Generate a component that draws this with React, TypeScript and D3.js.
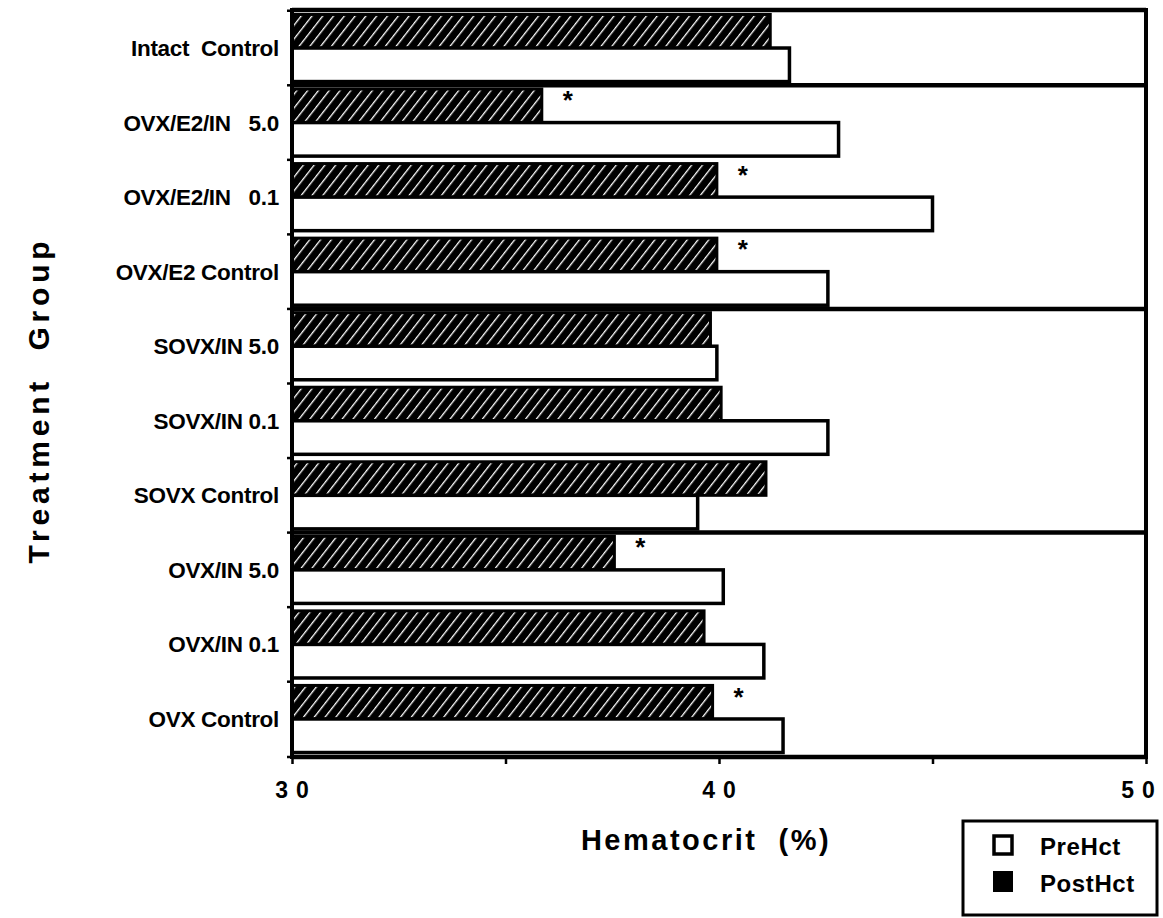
import * as d3 from "d3";
import { useEffect, useRef } from "react";

const groups = [
  "Intact  Control",
  "OVX/E2/IN   5.0",
  "OVX/E2/IN   0.1",
  "OVX/E2 Control",
  "SOVX/IN 5.0",
  "SOVX/IN 0.1",
  "SOVX Control",
  "OVX/IN 5.0",
  "OVX/IN 0.1",
  "OVX Control"
];
const preHct = [41.65, 42.8, 45.0, 42.55, 39.95, 42.55, 39.5, 40.1, 41.05, 41.5];
const postHct = [41.2, 35.85, 39.95, 39.95, 39.8, 40.05, 41.1, 37.55, 39.65, 39.85];
const significant = [false, true, true, true, false, false, false, true, false, true];
// last group of each box, a heavy rule is drawn under it
const boxEnds = [0, 3, 6];
const xTicks = [30, 35, 40, 45, 50];
const xLabels = [30, 40, 50];

const W = 1163;
const H = 918;
const font = "'Liberation Sans', Arial, sans-serif";

export default function App() {
  const axisx: any = useRef();

  const left = 292, right = 1146, top = 10, bottom = 757;

  const x: any = d3.scaleLinear([30, 50], [left, right]);
  const y: any = d3.scaleBand(groups, [top, bottom]).paddingInner(0.1).paddingOuter(0.06);
  const half = y.bandwidth() / 2;
  const step = y.step();

  useEffect(() => {
    const g = d3.select(axisx.current);
    g.call(d3.axisBottom(x).tickValues(xTicks).tickSize(7).tickFormat(() => ""));
    g.select(".domain").remove();
    g.selectAll(".tick line").attr("stroke-width", 2.5);
  }, [x]);

  return (
    <svg width={W} height={H} style={{ position: "absolute", left: 0, top: 0, background: "#fff" }}>
      <defs>
        <pattern id="hatch" patternUnits="userSpaceOnUse" width={8.5} height={8.5} patternTransform="rotate(38)">
          <rect width={8.5} height={8.5} fill="#000" />
          <line x1={0} y1={0} x2={0} y2={8.5} stroke="#fff" strokeWidth={2.6} />
        </pattern>
      </defs>

      {/* PostHct (hatched) then PreHct (open) bars */}
      {groups.map((g, i) => (
        <g key={g}>
          <rect
            x={x(30)} y={y(g)}
            width={x(postHct[i]) - x(30)} height={half}
            fill="url(#hatch)" stroke="#000" strokeWidth={3} />
          <rect
            x={x(30)} y={y(g) + half}
            width={x(preHct[i]) - x(30)} height={half}
            fill="#fff" stroke="#000" strokeWidth={3.5} />
          {significant[i] && (
            <text
              x={x(postHct[i]) + 26} y={y(g) + half * 0.6}
              textAnchor="middle" fontFamily={font} fontWeight="bold" fontSize={26}>*</text>
          )}
          <text
            x={279} y={y(g) + half + 8}
            textAnchor="end" fontFamily={font} fontWeight="bold" fontSize={22.5}
            letterSpacing={-0.3} style={{ whiteSpace: "pre" }}>{g}</text>
        </g>
      ))}

      {/* box rules */}
      {boxEnds.map(i => {
        const yy = y(groups[i]) + y.bandwidth() + (step - y.bandwidth()) / 2;
        return <line key={i} x1={left} x2={right} y1={yy} y2={yy} stroke="#000" strokeWidth={4.5} />;
      })}

      {/* y ticks at band edges */}
      {groups.map((g, i) => {
        const yy = y(g) - (step - y.bandwidth()) / 2;
        return <line key={"t" + i} x1={left - 5} x2={left} y1={yy} y2={yy} stroke="#000" strokeWidth={2.5} />;
      })}
      <line x1={left - 5} x2={left} y1={bottom} y2={bottom} stroke="#000" strokeWidth={2.5} />

      {/* frame */}
      <line x1={left} x2={right} y1={top} y2={top} stroke="#000" strokeWidth={4.5} />
      <line x1={left} x2={right} y1={bottom} y2={bottom} stroke="#000" strokeWidth={4.5} />
      <line x1={left} x2={left} y1={top - 2} y2={bottom + 2} stroke="#000" strokeWidth={4} />
      <line x1={right} x2={right} y1={top - 2} y2={bottom + 2} stroke="#000" strokeWidth={4} />

      <g ref={axisx} transform={`translate(0, ${bottom})`} />

      {/* x tick labels */}
      {xLabels.map((v, i) => (
        <text key={v}
          x={x(v) + (i === xLabels.length - 1 ? -4 : 4)} y={798}
          textAnchor="middle" fontFamily={font} fontWeight="bold" fontSize={23}
          letterSpacing={8}>{v}</text>
      ))}

      {/* axis titles */}
      <text
        transform={`translate(49, 400) rotate(-90)`}
        textAnchor="middle" fontFamily={font} fontWeight="bold" fontSize={30}
        letterSpacing={4.8} style={{ whiteSpace: "pre" }}>Treatment  Group</text>
      <text
        x={706} y={850}
        textAnchor="middle" fontFamily={font} fontWeight="bold" fontSize={29}
        letterSpacing={2.5} style={{ whiteSpace: "pre" }}>Hematocrit  (%)</text>

      {/* legend */}
      <g fontFamily={font} fontWeight="bold" fontSize={24}>
        <rect x={963} y={821} width={194} height={94} fill="#fff" stroke="#000" strokeWidth={3} />
        <rect x={994} y={836} width={18} height={18} fill="#fff" stroke="#000" strokeWidth={3.5} />
        <text x={1040} y={855} letterSpacing={0.6}>PreHct</text>
        <rect x={993} y={871} width={20} height={21} fill="#000" />
        <text x={1040} y={892} letterSpacing={0.6}>PostHct</text>
      </g>
    </svg>
  );
}
